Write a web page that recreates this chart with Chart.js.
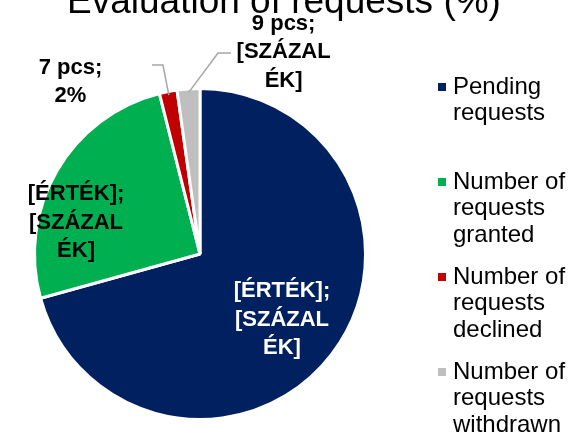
<!DOCTYPE html>
<html>
<head>
<meta charset="utf-8">
<script src="https://cdn.jsdelivr.net/npm/chart.js@4"></script>
<style>
  html, body { margin: 0; padding: 0; background: #ffffff; }
  #wrap { width: 581px; height: 436px; position: relative; }
</style>
</head>
<body>
<div id="wrap"><canvas id="c"></canvas></div>
<script>
// ---- data ----
const chartTitle = "Evaluation of requests (%)";
const categories = ["Pending requests", "Number of requests granted", "Number of requests declined", "Number of requests withdrawn"];
const legendLines = [["Pending", "requests"], ["Number of", "requests", "granted"], ["Number of", "requests", "declined"], ["Number of", "requests", "withdrawn"]];
const counts = [287, 103, 7, 9];
const dataLabels = [["[ÉRTÉK];", "[SZÁZAL", "ÉK]"], ["[ÉRTÉK];", "[SZÁZAL", "ÉK]"], ["7 pcs;", "2%"], ["9 pcs;", "[SZÁZAL", "ÉK]"]];
const colors = ["#002060", "#00B050", "#C00000", "#BFBFBF"];

// ---- styling (positions relative to pie centre, in radius units) ----
const labelStyle = [
  { dx: 0.50, dy: 0.40, color: "#ffffff" },
  { dx: -0.756, dy: -0.19, color: "#000000" },
  { dx: -0.79, dy: -1.05, color: "#000000" },
  { dx: 0.51, dy: -1.23, color: "#000000" }
];
const leaders = {
  2: [[-0.226, -1.152], [-0.293, -1.152]],
  3: [[0.11, -1.226], [0.189, -1.226]]
};
const FONT = "'Liberation Sans', Arial, sans-serif";

const decor = {
  id: "decor",
  afterDraw(chart) {
    const ctx = chart.ctx;
    const meta = chart.getDatasetMeta(0);
    const arc0 = meta.data[0];
    const cx = arc0.x, cy = arc0.y, R = arc0.outerRadius - 1.5;

    // title
    ctx.save();
    ctx.fillStyle = "#000000";
    ctx.font = "37px " + FONT;
    ctx.textAlign = "left";
    ctx.textBaseline = "alphabetic";
    ctx.fillText(chartTitle, 67, 13);
    ctx.restore();

    // leader lines
    ctx.save();
    ctx.strokeStyle = "#A6A6A6";
    ctx.lineWidth = 1.5;
    Object.keys(leaders).forEach(k => {
      const a = meta.data[k];
      const mid = (a.startAngle + a.endAngle) / 2;
      const sx = cx + Math.cos(mid) * (R - 2), sy = cy + Math.sin(mid) * (R - 2);
      ctx.beginPath();
      ctx.moveTo(sx, sy);
      leaders[k].forEach(p => ctx.lineTo(cx + p[0] * R, cy + p[1] * R));
      ctx.stroke();
    });
    ctx.restore();

    // data labels
    ctx.save();
    ctx.font = "bold 22px " + FONT;
    ctx.textAlign = "center";
    ctx.textBaseline = "middle";
    const lh = 28.5;
    dataLabels.forEach((lines, i) => {
      const st = labelStyle[i];
      const x = cx + st.dx * R, y = cy + st.dy * R;
      ctx.fillStyle = st.color;
      const y0 = y - (lines.length - 1) * lh / 2;
      lines.forEach((t, j) => ctx.fillText(t, x, y0 + j * lh));
    });
    ctx.restore();

    // legend
    ctx.save();
    ctx.font = "24px " + FONT;
    ctx.textAlign = "left";
    ctx.textBaseline = "middle";
    const lx = 438, ly0 = 87, pitch = 95, llh = 26.5;
    legendLines.forEach((lines, i) => {
      const y = ly0 + i * pitch;
      ctx.fillStyle = colors[i];
      ctx.fillRect(lx, y - 4, 8, 8);
      ctx.fillStyle = "#000000";
      lines.forEach((t, j) => ctx.fillText(t, lx + 15, y + j * llh));
    });
    ctx.restore();
  }
};

new Chart(document.getElementById("c"), {
  type: "pie",
  data: {
    labels: categories,
    datasets: [{
      data: counts,
      backgroundColor: colors,
      borderColor: "#ffffff",
      borderWidth: 3
    }]
  },
  options: {
    responsive: true,
    maintainAspectRatio: false,
    devicePixelRatio: 1,
    animation: false,
    layout: { padding: { left: 33, right: 214, top: 87, bottom: 15 } },
    plugins: {
      legend: { display: false },
      title: { display: false },
      tooltip: { enabled: false }
    }
  },
  plugins: [decor]
});
</script>
</body>
</html>
